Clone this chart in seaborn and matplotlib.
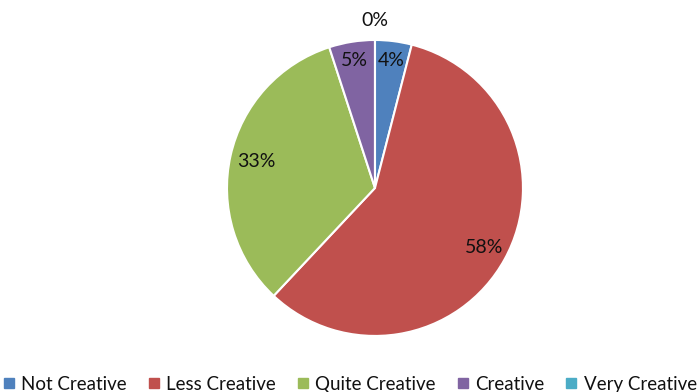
import numpy as np
import matplotlib.pyplot as plt
import seaborn as sns
from matplotlib.lines import Line2D

# données
categories = ["Not Creative", "Less Creative", "Quite Creative", "Creative", "Very Creative"]
values = [4, 58, 33, 5, 0]
pct_labels = ["4%", "58%", "33%", "5%", "0%"]

sns.set_theme(style="white")
plt.rcParams['font.family'] = ['Lato', 'DejaVu Sans']
colors = ["#4F81BD", "#C0504D", "#9BBB59", "#8064A2", "#4BACC6"]

fig = plt.figure(figsize=(6.99, 3.92), dpi=100)
ax = fig.add_axes([0.3247, 0.143, 0.4235, 0.755])

wedges, _ = ax.pie(values, colors=colors, startangle=90, counterclock=False,
                   wedgeprops=dict(edgecolor="white", linewidth=1.5), radius=1)
ax.set_xlim(-1, 1)
ax.set_ylim(-1, 1)

# étiquettes de pourcentage
dists = [0.87, 0.84, 0.82, 0.87, 1.13]
for w, lab, d in zip(wedges, pct_labels, dists):
    ang = np.deg2rad((w.theta1 + w.theta2) / 2)
    ax.text(d * np.cos(ang), d * np.sin(ang), lab, ha="center", va="center",
            fontsize=14, color="#111111")

handles = [Line2D([0], [0], marker="s", linestyle="", markersize=6.5,
                  markerfacecolor=c, markeredgecolor=c) for c in colors]
fig.legend(handles, categories, loc="lower center", bbox_to_anchor=(0.5, -0.045),
           ncol=5, frameon=False, fontsize=13.5, handletextpad=0.3,
           columnspacing=1.1, handlelength=0.7, labelcolor="#111111")

fig.savefig("out.png", dpi=100)
